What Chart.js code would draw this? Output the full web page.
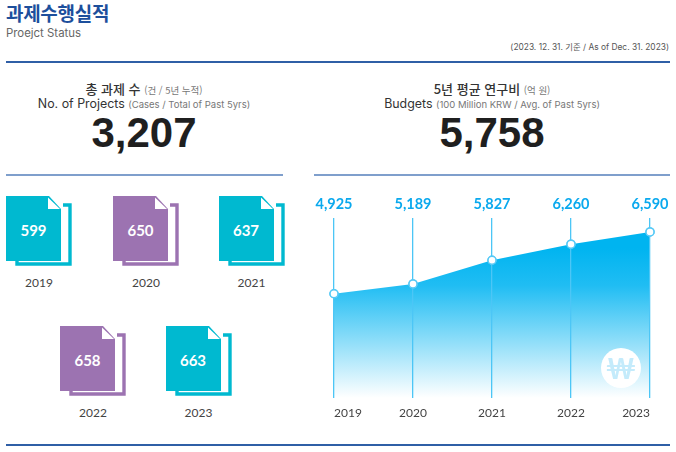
<!DOCTYPE html>
<html lang="ko">
<head>
<meta charset="utf-8">
<title>과제수행실적</title>
<script src="https://cdn.jsdelivr.net/npm/chart.js@4"></script>
<style>
  html, body { margin: 0; padding: 0; background: #fff; }
  body { width: 676px; height: 452px; position: relative; overflow: hidden;
         font-family: Inter, "Noto Sans CJK KR", sans-serif; color: #222; }
  .abs { position: absolute; white-space: nowrap; line-height: 1; }
  .title { left: 6px; top: 2px; font: 700 19px "Noto Sans CJK KR", sans-serif; line-height: 21px; color: #1d4f9c; letter-spacing: -0.3px; }
  .sub { left: 6px; top: 28px; font-size: 11.4px; color: #666; }
  .date { right: 7px; top: 43px; font-size: 8.4px; color: #555; }
  .rule { position: absolute; background: #2f5fa6; }
  .head { text-align: center; width: 330px; }
  .head small { color: #777; font-size: 9.5px; }
  .ko { font: 500 13px "Noto Sans CJK KR", sans-serif; line-height: 15px; color: #333; }
  .ko small { font-weight: 400; font-size: 9.5px; }
  .en { font-size: 12.4px; line-height: 15px; color: #333; }
  .big { font: 700 42px "Liberation Sans", sans-serif; line-height: 1; color: #1f1f1f; text-align: center; width: 330px; }
  .doc { position: absolute; width: 72px; height: 72px; }
  .doc svg { position: absolute; left: 0; top: 0; }
  .doc b { position: absolute; left: 0; width: 55px; top: 26px; text-align: center; color: #fff;
           font: 700 15px Lato, sans-serif; line-height: 17px; }
  .year { position: absolute; width: 60px; text-align: center; font: 12px Lato, sans-serif; color: #444; line-height: 14px; }
  #wrap { position: absolute; left: 300px; top: 190px; width: 376px; height: 240px; }
  .won { position: absolute; left: 601px; top: 348px; width: 40px; height: 40px; border-radius: 50%; background: #fff;
         color: #c4ebfb; font: 700 28px/40px Lato, sans-serif; text-align: center; }
</style>
</head>
<body>
<div class="abs title">과제수행실적</div>
<div class="abs sub">Proejct Status</div>
<div class="abs date">(2023. 12. 31. 기준 / As of Dec. 31. 2023)</div>
<div class="rule" style="left:6px;top:61px;width:664px;height:2px"></div>

<div class="abs head ko" style="left:-21px;top:81px">총 과제 수 <small>(건 / 5년 누적)</small></div>
<div class="abs head en" style="left:-21px;top:96px">No. of Projects <small>(Cases / Total of Past 5yrs)</small></div>
<div class="abs big" style="left:-21px;top:112px" id="totalProjects"></div>

<div class="abs head ko" style="left:327px;top:81px">5년 평균 연구비 <small>(억 원)</small></div>
<div class="abs head en" style="left:327px;top:96px">Budgets <small>(100 Million KRW / Avg. of Past 5yrs)</small></div>
<div class="abs big" style="left:327px;top:112px" id="avgBudget"></div>

<div class="rule" style="left:6px;top:174px;width:277px;height:1.5px;background:#7f9fcc"></div>
<div class="rule" style="left:314px;top:174px;width:356px;height:1.5px;background:#7f9fcc"></div>

<div id="docs"></div>

<div id="wrap"><canvas id="budgetChart" width="376" height="240"></canvas></div>
<div class="won">₩</div>

<div class="rule" style="left:6px;top:444px;width:664px;height:2px"></div>

<script>
// 상단 합계
const totalProjects = "3,207";
const avgBudget = "5,758";

// 연도별 과제 수
const projectYears = ["2019", "2020", "2021", "2022", "2023"];
const projectCounts = [599, 650, 637, 658, 663];
const projectColors = ["#00b9d0", "#9c73b1", "#00b9d0", "#9c73b1", "#00b9d0"];

// 연도별 연구비
const budgetYears = ["2019", "2020", "2021", "2022", "2023"];
const budgetValues = [4925, 5189, 5827, 6260, 6590];

document.getElementById("totalProjects").textContent = totalProjects;
document.getElementById("avgBudget").textContent = avgBudget;

// 문서 아이콘 자리 (왼쪽, 위)
const docSpots = [[6, 196], [113, 196], [218.5, 196], [60, 326], [165.5, 326]];

const docs = document.getElementById("docs");
projectCounts.forEach((count, i) => {
  const color = projectColors[i];
  const [left, top] = docSpots[i];
  const el = document.createElement("div");
  el.className = "doc";
  el.style.left = left + "px";
  el.style.top = top + "px";
  el.innerHTML =
    '<svg width="72" height="72">' +
    '<path d="M57 9H64V68H11V65" fill="none" stroke="' + color + '" stroke-width="3.4"/>' +
    '<path d="M0 0H43L55 13V65H0Z" fill="' + color + '"/>' +
    '<path d="M42 1.5V13H54Z" fill="#fff"/>' +
    "</svg><b>" + count + "</b>";
  docs.appendChild(el);

  const year = document.createElement("div");
  year.className = "year";
  year.textContent = projectYears[i];
  year.style.left = left + 3 + "px";
  year.style.top = top + 80 + "px";
  docs.appendChild(year);
});

// 값 라벨과 포인트는 세로선 위에 그린다
const overlayPlugin = {
  id: "overlay",
  afterDraw(chart) {
    const ctx = chart.ctx;
    const meta = chart.getDatasetMeta(0);
    meta.data.forEach((pt) => pt.draw(ctx));
    ctx.save();
    ctx.font = "700 14.5px Lato, sans-serif";
    ctx.fillStyle = "#0aa9ee";
    ctx.textAlign = "center";
    ctx.textBaseline = "middle";
    meta.data.forEach((pt, i) => {
      ctx.fillText(budgetValues[i].toLocaleString("en-US"), pt.x, chart.chartArea.top - 14);
    });
    ctx.restore();
  },
};

new Chart(document.getElementById("budgetChart"), {
  type: "line",
  data: {
    labels: budgetYears,
    datasets: [
      {
        data: budgetValues,
        borderWidth: 0,
        borderColor: "rgba(0,0,0,0)",
        fill: "start",
        tension: 0,
        clip: false,
        pointRadius: 4,
        pointBorderWidth: 1.5,
        pointBackgroundColor: "#fff",
        pointBorderColor: "#56c9f6",
        backgroundColor(c) {
          const area = c.chart.chartArea;
          if (!area) return "#00b4f0";
          const g = c.chart.ctx.createLinearGradient(0, area.top + 30, 0, area.bottom);
          g.addColorStop(0, "#00b4f0");
          g.addColorStop(0.25, "#20bdf3");
          g.addColorStop(1, "#ffffff");
          return g;
        },
      },
    ],
  },
  options: {
    responsive: false,
    animation: false,
    layout: { padding: { left: 34, right: 26, top: 28, bottom: 0 } },
    plugins: { legend: { display: false }, tooltip: { enabled: false } },
    scales: {
      x: {
        offset: false,
        afterFit(scale) {
          scale.height = 32;
        },
        border: { display: false },
        grid: { z: 1, color: "#4cc6f6", lineWidth: 1.3, drawTicks: false },
        ticks: {
          align: "inner",
          padding: 8,
          maxRotation: 0,
          autoSkip: false,
          color: "#444",
          font: { family: "Lato, sans-serif", size: 12 },
        },
      },
      y: { display: false, min: 2117, max: 6965 },
    },
  },
  plugins: [overlayPlugin],
});
</script>
</body>
</html>
